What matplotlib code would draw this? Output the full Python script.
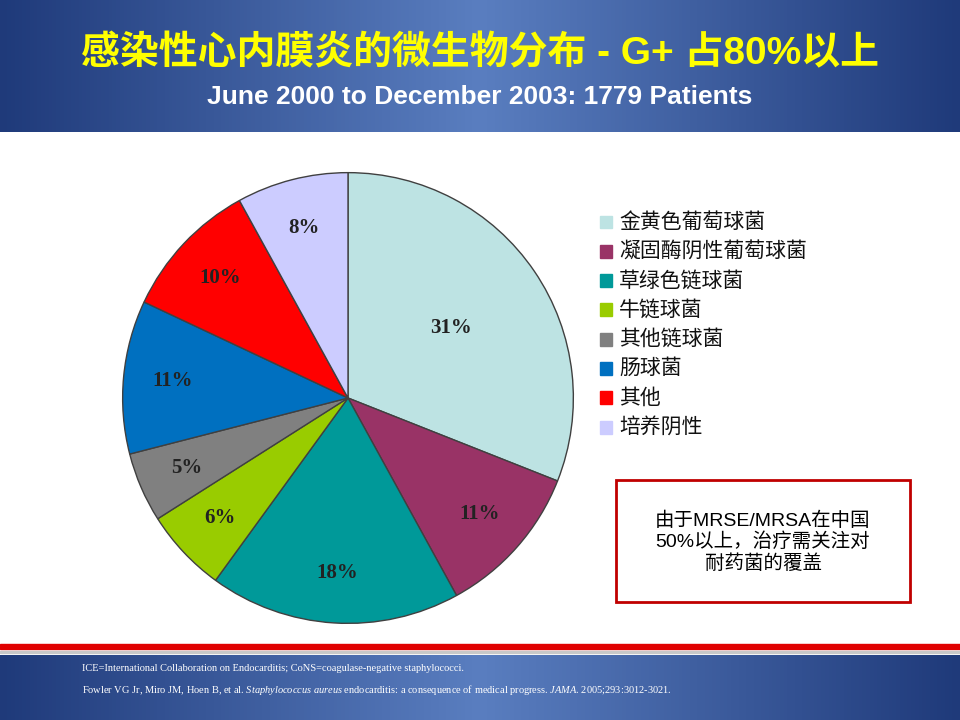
import matplotlib
matplotlib.use('Agg')
import matplotlib.pyplot as plt
import numpy as np
from matplotlib.patches import Rectangle

plt.rcParams['font.family'] = ['Liberation Sans', 'Noto Sans CJK SC']
plt.rcParams['mathtext.fontset'] = 'custom'
plt.rcParams['mathtext.it'] = 'Liberation Serif:italic'
plt.rcParams['mathtext.rm'] = 'Liberation Serif'

labels = ['金黄色葡萄球菌', '凝固酶阴性葡萄球菌', '草绿色链球菌', '牛链球菌',
          '其他链球菌', '肠球菌', '其他', '培养阴性']
values = [31, 11, 18, 6, 5, 11, 10, 8]
colors = ['#BDE3E3', '#993366', '#009999', '#99CC00', '#808080', '#0070C0', '#FF0000', '#CCCCFF']

fig = plt.figure(figsize=(9.6, 7.2), dpi=100)

# header / footer bands
bg = fig.add_axes([0, 0, 1, 1])
bg.set_axis_off()
grad = np.linspace(0, 1, 256)
cmap = matplotlib.colors.LinearSegmentedColormap.from_list('hdr', ['#1F3A7A', '#5A7EC0', '#1F3A7A'])
bg.imshow(grad[None, :], extent=[0, 960, 132, 0], aspect='auto', cmap=cmap)
bg.imshow(grad[None, :], extent=[0, 960, 720, 655], aspect='auto', cmap=cmap)
bg.add_patch(Rectangle((0, 644), 960, 5, color='#E00000'))
bg.add_patch(Rectangle((0, 651), 960, 2, color='#C8C8C8'))
bg.set_xlim(0, 960)
bg.set_ylim(720, 0)

fig.text(0.5, 0.925, '感染性心内膜炎的微生物分布 - G+ 占80%以上', color='#FFFF00',
         fontsize=28, fontweight='bold', ha='center', va='center')
fig.text(0.5, 0.865, 'June 2000 to December 2003: 1779 Patients', color='white',
         fontsize=19, fontweight='bold', ha='center', va='center')

fig.text(0.085, 0.068, 'ICE=International Collaboration on Endocarditis; CoNS=coagulase-negative staphylococci.',
         color='white', fontsize=7.5, family='Liberation Serif')
fig.text(0.085, 0.038, 'Fowler VG Jr, Miro JM, Hoen B, et al. $\\it{Staphylococcus\\ aureus}$ endocarditis: a consequence of medical progress. $\\it{JAMA}$. 2005;293:3012-3021.',
         color='white', fontsize=7.5, family='Liberation Serif')

ax = fig.add_axes([348 / 960 - 0.235, 1 - 398 / 720 - 0.313, 0.47, 0.626])
wedges, _ = ax.pie(values, colors=colors, startangle=90, counterclock=False,
                   wedgeprops=dict(edgecolor='#404040', linewidth=1))
ax.set_xlim(-1.0, 1.0)
ax.set_ylim(-1.0, 1.0)
ax.set_aspect('equal')
cum = np.cumsum([0] + values)
for i, v in enumerate(values):
    mid = np.deg2rad(90 - (cum[i] + v / 2) * 3.6)
    r = 0.55 if i == 0 else 0.78
    ax.text(r * np.cos(mid), r * np.sin(mid), f'{v}%', ha='center', va='center',
            fontsize=15, fontweight='bold', family='Liberation Serif', color='#222222')

for i, (lab, c) in enumerate(zip(labels, colors)):
    y = 1 - (222 + i * 29.3) / 720
    fig.patches.append(Rectangle((0.625, y - 0.009), 0.013, 0.018, color=c,
                                 transform=fig.transFigure, figure=fig))
    fig.text(0.645, y, lab, fontsize=15, va='center', color='#111111',
             style='italic' if i == 2 else 'normal')

fig.patches.append(Rectangle((616 / 960, 1 - 602 / 720), 294 / 960, 122 / 720, fill=False,
                             edgecolor='#C00000', linewidth=2, transform=fig.transFigure, figure=fig))
fig.text(763 / 960, 1 - 542 / 720, '由于MRSE/MRSA在中国\n50%以上，治疗需关注对\n耐药菌的覆盖',
         ha='center', va='center', fontsize=14, linespacing=1.2)

fig.savefig('out.png', dpi=100)
